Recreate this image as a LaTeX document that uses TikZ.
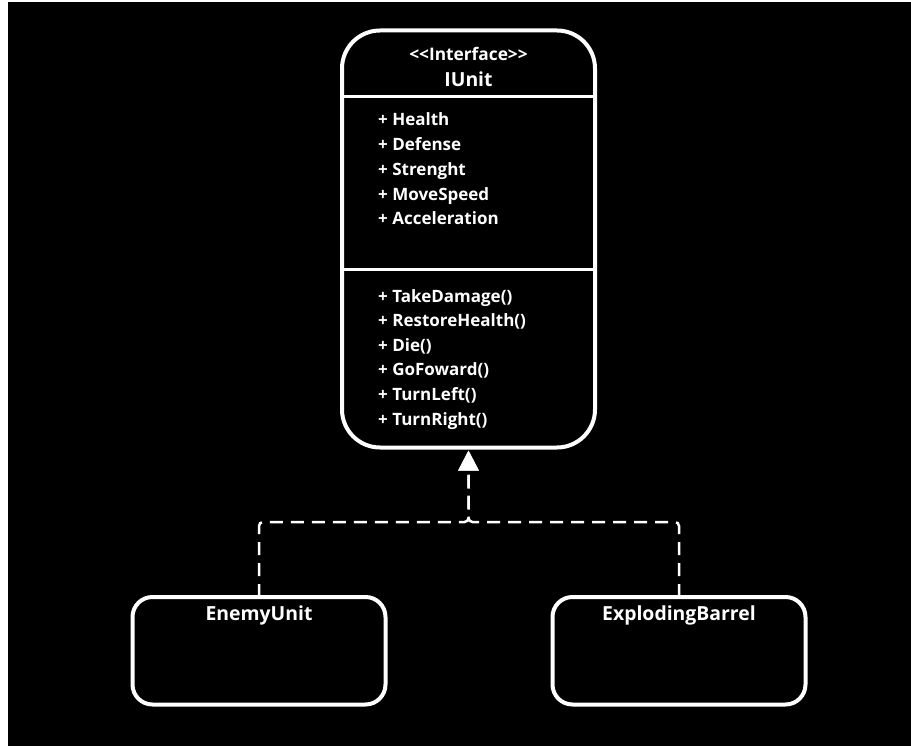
\documentclass[tikz,border=0pt]{standalone}
\usepackage{fontspec}
% plain family: no TeX ligature mapping, so << and >> stay as typed
\newfontfamily\umlfont{Open Sans}
\usetikzlibrary{arrows.meta}
\begin{document}
\begin{tikzpicture}[x=1pt,y=-1pt,
  umlbox/.style={draw=white, line width=4pt, fill=black, inner sep=0pt, outer sep=0pt},
  divider/.style={draw=white, line width=3pt},
  member/.style={text=white, inner sep=0pt, anchor=base west,
    font=\umlfont\bfseries\fontsize{17}{20}\selectfont},
  stereotype/.style={text=white, inner sep=0pt, anchor=base,
    font=\umlfont\bfseries\fontsize{17.3}{20}\selectfont},
  classname/.style={text=white, inner sep=0pt, anchor=base,
    font=\umlfont\bfseries\fontsize{19.4}{22}\selectfont},
  realize/.style={draw=white, line width=2.5pt, dash pattern=on 13pt off 8pt,
    rounded corners=4pt},
  realizetip/.style={-{Triangle[width=20pt,length=20pt]}}
]
\useasboundingbox (0,0) rectangle (911,746);
\fill[white] (0,0) rectangle (911,746);
\fill[black] (8,2) rectangle (911,746);

% interface box with its three compartments
\node[umlbox, rounded corners=38pt, minimum width=253pt, minimum height=417pt]
  (iunit) at (468.5,239) {};
\draw[divider] (iunit.west |- 0,97) -- (iunit.east |- 0,97);
\draw[divider] (iunit.west |- 0,270) -- (iunit.east |- 0,270);

\node[stereotype] (stereo) at (468.5,61) {<<Interface>>};
\node[classname] (iname) at (468.5,87) {IUnit};

\node[member] (a1) at (378,126) {+ Health};
\node[member] (a2) at (378,150.7) {+ Defense};
\node[member] (a3) at (378,175.4) {+ Strenght};
\node[member] (a4) at (378,200.1) {+ MoveSpeed};
\node[member] (a5) at (378,224.8) {+ Acceleration};

\node[member] (m1) at (378,302) {+ TakeDamage()};
\node[member] (m2) at (378,326.6) {+ RestoreHealth()};
\node[member] (m3) at (378,351.2) {+ Die()};
\node[member] (m4) at (378,375.8) {+ GoFoward()};
\node[member] (m5) at (378,400.4) {+ TurnLeft()};
\node[member] (m6) at (378,425) {+ TurnRight()};

% implementing classes
\node[umlbox, rounded corners=20pt, minimum width=253pt, minimum height=107.5pt]
  (enemy) at (259,650.75) {};
\node[classname] (ename) at (259,620) {EnemyUnit};

\node[umlbox, rounded corners=20pt, minimum width=253pt, minimum height=107.5pt]
  (barrel) at (679,650.75) {};
\node[classname] (bname) at (679,620) {ExplodingBarrel};

% realization connectors meeting below the interface
\coordinate (join) at (468.5,522);
\coordinate (tip) at ([yshift=-3pt]iunit.south);
\draw[realize, realizetip] (enemy.north) |- (join) -- (tip);
\draw[realize, realizetip] (barrel.north) |- (join) -- (tip);
\end{tikzpicture}
\end{document}
